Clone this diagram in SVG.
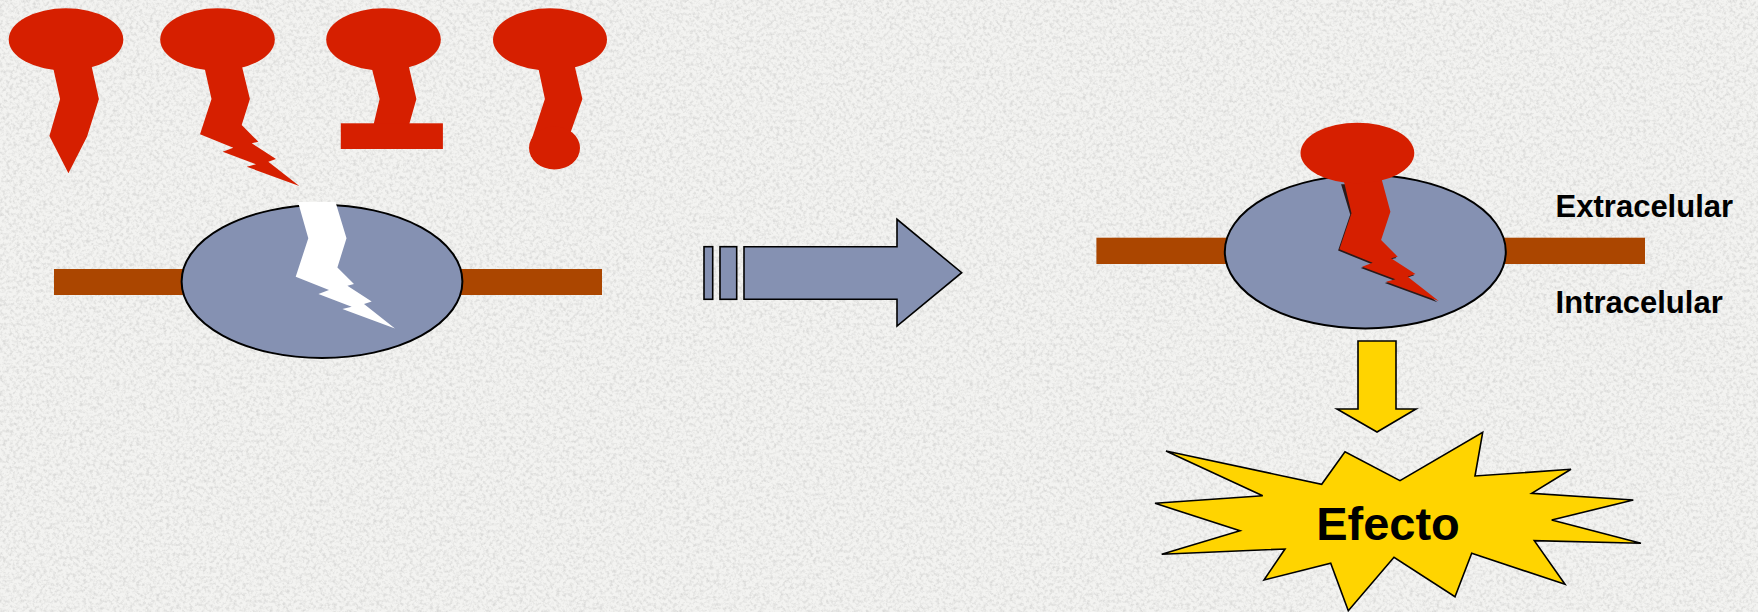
<svg xmlns="http://www.w3.org/2000/svg" width="1758" height="612" viewBox="0 0 1758 612">
  <defs>
    <style>
      .ligand { fill: #d61f00; }
      .membrane { fill: #ab4600; }
      .receptor { fill: #8591b2; stroke: #000; stroke-width: 2; }
      .outline { stroke: #000; stroke-width: 1.6; stroke-linejoin: miter; }
      .blue { fill: #8591b2; }
      .yellow { fill: #ffd400; }
      .label { font-family: "Liberation Sans", Arial, sans-serif; font-weight: bold; fill: #000; }
    </style>
    <!-- granite-like slide background -->
    <filter id="granite" x="0" y="0" width="100%" height="100%" filterUnits="userSpaceOnUse">
      <feTurbulence type="fractalNoise" baseFrequency="0.3" numOctaves="3" seed="7" result="noise"/>
      <feColorMatrix in="noise" type="matrix"
        values="0 0 0 0 0.6
                0 0 0 0 0.6
                0 0 0 0 0.59
                2.6 0 0 0 -1.1"/>
    </filter>
  </defs>

  <!-- background -->
  <rect width="1758" height="612" fill="#f3f3f1"/>
  <rect width="1758" height="612" filter="url(#granite)" opacity="0.6"/>

  <!-- free ligands -->
  <g id="ligand-1">
    <ellipse class="ligand" cx="66" cy="39.5" rx="57.3" ry="31.2"/>
    <polygon class="ligand" points="51.4,60 60.1,99 49.4,136 68.4,173.3 87,136.7 98.9,99 90.2,60"/>
  </g>
  <g id="ligand-2">
    <ellipse class="ligand" cx="217.5" cy="39.5" rx="57.3" ry="31.2"/>
    <polygon class="ligand" points="202.8,60 211.5,99 200,134.3 233.3,147.7 222.7,151.7 256,164.3 246.7,166.7 299.3,186 268.3,161.7 276,159 251.7,143.3 258.3,141.7 241.7,125 249.9,99 240.4,60"/>
  </g>
  <g id="ligand-3">
    <ellipse class="ligand" cx="383.5" cy="39.5" rx="57.3" ry="31.2"/>
    <polygon class="ligand" points="369.7,60 379.6,99 373.7,124 409.3,124 416.4,99 407.3,60"/>
    <rect class="ligand" x="340.8" y="123.3" width="102.1" height="25.7"/>
  </g>
  <g id="ligand-4">
    <ellipse class="ligand" cx="550" cy="39.5" rx="57" ry="31.2"/>
    <polygon class="ligand" points="536.6,60 544.9,99 535.8,126.7 531.4,140 567.9,140 572.6,126.7 582.4,99 573.3,60"/>
    <ellipse class="ligand" cx="554.5" cy="148" rx="25.5" ry="21.5"/>
  </g>

  <!-- empty receptor in the membrane -->
  <g id="receptor-empty">
    <rect class="membrane" x="54" y="269" width="548" height="26"/>
    <ellipse class="receptor" cx="322" cy="281.5" rx="140.4" ry="76.5"/>
    <polygon fill="#ffffff" points="298,202 308.3,238.3 295.7,276.7 329,290.1 318.4,294.1 351.7,306.7 342.4,309.1 395,328.4 364,304.1 371.7,301.4 347.4,285.7 354,284.1 337.4,267.4 346.5,238.3 335.5,202"/>
  </g>

  <!-- bound receptor in the membrane -->
  <g id="receptor-bound">
    <rect class="membrane" x="1096.4" y="237.7" width="548.6" height="26.3"/>
    <ellipse class="receptor" cx="1365.3" cy="251.7" rx="140.5" ry="76.7"/>
    <polygon fill="#2a1a1a" transform="translate(-1.3,1.3)" points="1342.4,183 1351.5,213.3 1339.4,249.3 1372.7,262.7 1362.1,266.7 1395.4,279.3 1386.1,281.7 1438.7,301 1407.7,276.7 1415.4,274 1391.1,258.3 1397.7,256.7 1381.1,240 1390.4,211.7 1380.5,183"/>
    <polygon class="ligand" points="1342.4,175 1351.5,213.3 1339.4,249.3 1372.7,262.7 1362.1,266.7 1395.4,279.3 1386.1,281.7 1438.7,301 1407.7,276.7 1415.4,274 1391.1,258.3 1397.7,256.7 1381.1,240 1390.4,211.7 1380.5,175"/>
    <ellipse class="ligand" cx="1357.4" cy="153" rx="56.9" ry="30.3"/>
  </g>

  <g id="labels">
    <text class="label" x="1555.6" y="216.7" font-size="31">Extracelular</text>
    <text class="label" x="1555.6" y="313.3" font-size="31">Intracelular</text>
  </g>

  <!-- effect burst -->
  <g id="effect">
    <polygon class="yellow outline" points="1166,451 1321.7,484.3 1345,451.7 1400,480.7 1482.7,432.3 1475,476 1571,469.3 1531.7,493.3 1633.3,500 1551.7,520 1641,543.3 1534.3,540.7 1565,584.3 1471.7,553.3 1455,596.7 1394,557.3 1348.3,610.7 1330.7,563.3 1264,580 1285,549 1161.7,554.3 1240,530.7 1155,503.3 1262.7,495.7"/>
    <text class="label" x="1388" y="540" font-size="47" text-anchor="middle">Efecto</text>
  </g>

  <g id="connectors">
    <!-- binding transition arrow -->
    <rect class="blue outline" x="704" y="246.7" width="8.7" height="52.6"/>
    <rect class="blue outline" x="720" y="246.7" width="16.7" height="52.6"/>
    <polygon class="blue outline" points="744,246.7 897,246.7 897,219.3 961.7,272.7 897,326 897,299.3 744,299.3"/>
    <!-- receptor to effect -->
    <polygon class="yellow outline" points="1358,341 1396,341 1396,409 1416,409 1377,432 1337,409 1358,409"/>
  </g>
</svg>
